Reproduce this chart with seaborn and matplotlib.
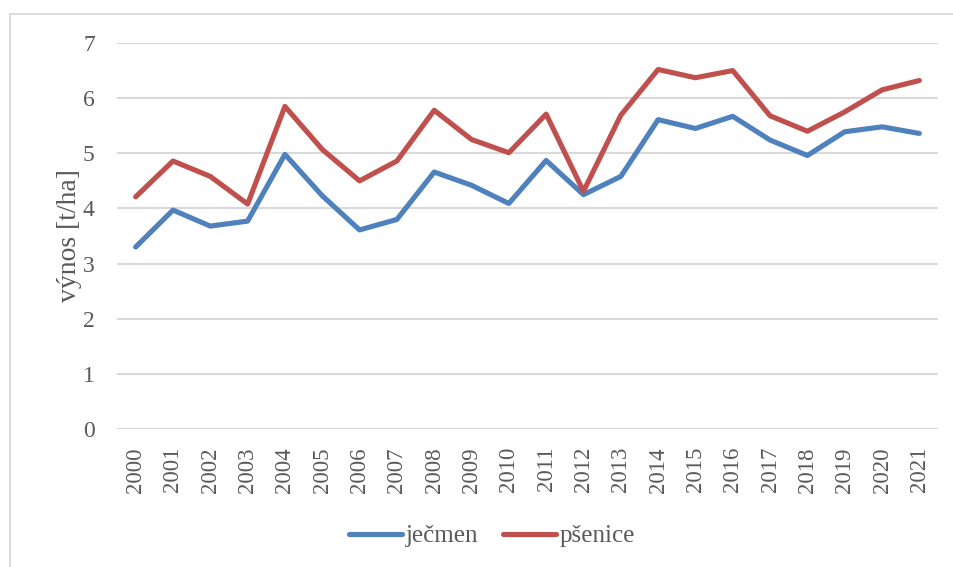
import matplotlib
matplotlib.use('Agg')
import matplotlib.pyplot as plt
from matplotlib.patches import Rectangle
import numpy as np
import pandas as pd
import seaborn as sns

# Data (t/ha)
years = list(range(2000, 2022))
jecmen = [3.30, 3.97, 3.68, 3.77, 4.98, 4.23, 3.61, 3.80, 4.66, 4.42, 4.09,
          4.87, 4.25, 4.58, 5.61, 5.45, 5.67, 5.24, 4.96, 5.39, 5.48, 5.36]
psenice = [4.21, 4.86, 4.58, 4.08, 5.85, 5.07, 4.50, 4.86, 5.78, 5.25, 5.01,
           5.71, 4.31, 5.69, 6.52, 6.37, 6.50, 5.68, 5.40, 5.75, 6.15, 6.32]
series_names = ['ječmen', 'pšenice']
colors = ['#4f81bd', '#c0504d']

df = pd.DataFrame({
    'rok': years * 2,
    'výnos': jecmen + psenice,
    'plodina': [series_names[0]] * len(years) + [series_names[1]] * len(years),
})

sns.set_style('white')
plt.rcParams['font.family'] = ['Liberation Serif', 'DejaVu Serif']
TEXT = '#595959'
GRID = '#d9d9d9'

fig = plt.figure(figsize=(9.54, 5.67), dpi=100)
fig.patch.set_facecolor('white')
ax = fig.add_axes([117 / 954, 1 - 429 / 567, (938 - 117) / 954, (429 - 43) / 567])

sns.lineplot(data=df, x='rok', y='výnos', hue='plodina', palette=colors,
             linewidth=3.7, ax=ax, legend=True)
for line in ax.lines:
    line.set_solid_capstyle('round')
    line.set_solid_joinstyle('round')

ax.set_xlim(years[0] - 0.5, years[-1] + 0.5)
ax.set_ylim(0, 7)
ax.set_xticks(years)
ax.set_xticklabels([str(y) for y in years], rotation=90)
ax.set_yticks(range(0, 8))

ax.yaxis.grid(True, color=GRID, linewidth=1.5)
ax.xaxis.grid(False)
ax.set_axisbelow(True)
for s in ax.spines.values():
    s.set_visible(False)

ax.tick_params(axis='y', length=0, pad=16, labelsize=17, labelcolor=TEXT)
ax.tick_params(axis='x', length=0, pad=13, labelsize=16.5, labelcolor=TEXT)

ax.set_xlabel('')
ax.set_ylabel('výnos [t/ha]', fontsize=20, color=TEXT, labelpad=1)

leg = ax.legend(loc='center', bbox_to_anchor=(492 / 954, 1 - 536 / 567),
                bbox_transform=fig.transFigure, ncol=2, frameon=False,
                fontsize=18, handlelength=2.1, handletextpad=0.15,
                columnspacing=1.0, labelcolor=TEXT)
for h in leg.get_lines():
    h.set_linewidth(3.7)
    h.set_solid_capstyle('round')

# Excel chart-area frame
fig.add_artist(Rectangle((10 / 954, -0.2), 1.5, 1.2 - 14 / 567,
                         transform=fig.transFigure, fill=False,
                         edgecolor=GRID, linewidth=1.3))

fig.savefig('out.png', dpi=100, facecolor='white')
